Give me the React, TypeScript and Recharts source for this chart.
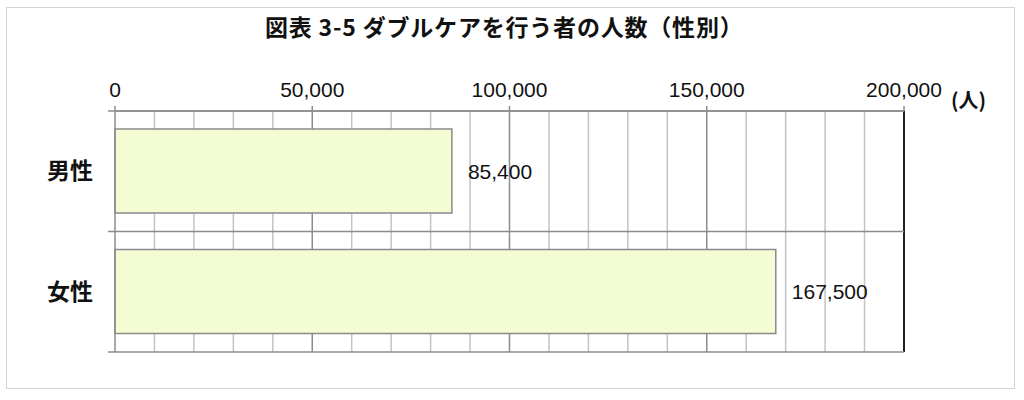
import { BarChart, Bar, XAxis, YAxis, CartesianGrid, LabelList } from 'recharts';

const title = '図表 3-5 ダブルケアを行う者の人数（性別）';
const unitLabel = '(人)';
const categories = ['男性', '女性'];
const counts = [85400, 167500];
const axisTicks = [0, 50000, 100000, 150000, 200000];
const minorLines = [
  10000, 20000, 30000, 40000, 60000, 70000, 80000, 90000,
  110000, 120000, 130000, 140000, 160000, 170000, 180000, 190000,
];
const majorLines = [50000, 100000, 150000];
const edgeLines = [200000];

const data = categories.map((name, i) => ({ name, value: counts[i] }));

const fmt = (v: number) => v.toLocaleString('en-US');
const numFont = '"Liberation Sans", Arial, sans-serif';
const jpFont = '"Noto Sans CJK JP", sans-serif';

// band boundaries of the category axis, taken from the plot offset
const bandLines = ({ offset }: any) =>
  Array.from({ length: categories.length + 1 }, (_, i) => offset.top + (i * offset.height) / categories.length);

const boundaryLine = (props: any) => (
  <line x1={props.x1 - 7} y1={props.y1} x2={props.x2} y2={props.y2} stroke="#8c8c8c" strokeWidth={1.5} />
);

export default function App() {
  return (
    <div style={{ position: 'fixed', left: 0, top: 0, width: 1024, height: 400, background: '#fff' }}>
      <div
        style={{
          position: 'absolute', left: 6, top: 7, width: 1009, height: 382,
          border: '1px solid #d4d4d4', boxSizing: 'border-box',
        }}
      />
      <div
        style={{
          position: 'absolute', left: 265, top: 10, whiteSpace: 'nowrap', lineHeight: '33px',
          fontFamily: jpFont, fontWeight: 700, fontSize: 23, letterSpacing: 0.8, color: '#111',
        }}
      >
        {title}
      </div>
      <div
        style={{
          position: 'absolute', left: 951, top: 85, fontFamily: jpFont, fontWeight: 700,
          fontSize: 20, color: '#111', lineHeight: '30px', whiteSpace: 'nowrap',
        }}
      >
        {unitLabel}
      </div>
      <div style={{ position: 'absolute', left: 0, top: 0 }}>
        <BarChart
          width={1024}
          height={400}
          data={data}
          layout="vertical"
          margin={{ top: 60, right: 120, bottom: 48, left: 0 }}
          barCategoryGap="15%"
        >
          <CartesianGrid horizontal={false} verticalValues={minorLines} stroke="#c4c4c4" strokeWidth={1.5} />
          <CartesianGrid horizontal={false} verticalValues={majorLines} stroke="#8c8c8c" strokeWidth={1.5} />
          <CartesianGrid horizontal={false} verticalValues={edgeLines} stroke="#222" strokeWidth={2} />
          <CartesianGrid vertical={false} horizontalCoordinatesGenerator={bandLines} horizontal={boundaryLine} />
          <XAxis
            type="number"
            orientation="top"
            domain={[0, 200000]}
            ticks={axisTicks}
            interval={0}
            height={51}
            tickFormatter={fmt}
            tickSize={5}
            tickMargin={9}
            axisLine={{ stroke: '#8c8c8c', strokeWidth: 1.5 }}
            tickLine={{ stroke: '#8c8c8c', strokeWidth: 1.5 }}
            tick={{ fill: '#111', fontSize: 21, fontFamily: numFont }}
          />
          <YAxis
            type="category"
            dataKey="name"
            width={115}
            tickLine={false}
            tickSize={0}
            tickMargin={22}
            axisLine={{ stroke: '#8c8c8c', strokeWidth: 1.5 }}
            tick={{ fill: '#111', fontSize: 23, fontWeight: 700, fontFamily: jpFont }}
          />
          <Bar dataKey="value" fill="#f4fcd4" stroke="#8a8a8a" strokeWidth={1.5} isAnimationActive={false}>
            <LabelList
              dataKey="value"
              position="right"
              offset={16}
              formatter={(v: any) => fmt(Number(v))}
              style={{ fill: '#111', fontSize: 21, fontFamily: numFont }}
            />
          </Bar>
        </BarChart>
      </div>
    </div>
  );
}
